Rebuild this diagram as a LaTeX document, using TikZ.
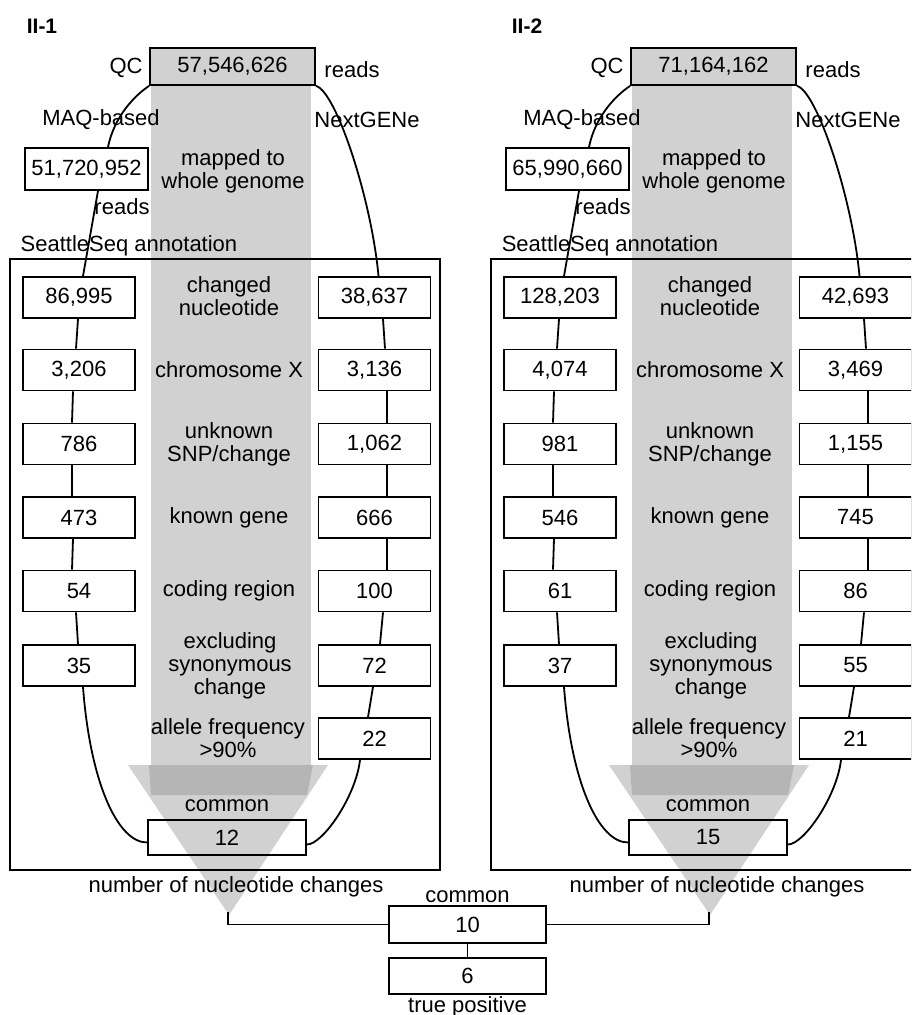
\documentclass[tikz,border=0pt]{standalone}
\usepackage{fontspec}
\setmainfont{Liberation Sans}
\usetikzlibrary{calc}
\definecolor{bandgray}{gray}{0.82}
\definecolor{darkgray2}{gray}{0.71}
\tikzset{
  txt/.style={font=\fontsize{22}{23}\selectfont, inner sep=0pt, align=center},
  numbox/.style={draw, line width=1.8pt, fill=white, minimum width=112pt, minimum height=41pt, inner sep=0pt, font=\fontsize{22}{23}\selectfont},
  link/.style={line width=1.8pt},
  framebox/.style={draw, line width=1.8pt},
  ttl/.style={font=\bfseries\fontsize{21}{22}\selectfont, inner sep=0pt},
}
\begin{document}
\begin{tikzpicture}[x=1pt,y=-1pt]
\useasboundingbox (0,0) rectangle (911,1015);
\clip (0,0) rectangle (911,1015);
\fill[white] (0,0) rectangle (911,1015);

% gray bands, funnels and frames
\foreach \dx in {0,481}{
  \begin{scope}[xshift=\dx pt]
    \fill[bandgray] (151,48) rectangle (311,765);
    \fill[bandgray] (128,765) -- (328,765) -- (229,915) -- cycle;
    \fill[darkgray2] (149,765) -- (313,765) -- (307,795) -- (151,795) -- cycle;
    \draw[framebox] (10,259) rectangle (440,870);
  \end{scope}
}

% ---------- panel II-1 ----------
\node[ttl] (tA) at (42,26) {II-1};
\node[numbox, fill=bandgray, minimum width=165pt, minimum height=37pt] (qcA) at (232.5,66.5) {57,546,626};
\node[txt] (qclA) at (126,68) {QC};
\node[txt] (rdA) at (352,70) {reads};
\node[txt] (maqlA) at (101,120) {MAQ-based};
\node[txt] (ngA) at (367,120) {NextGENe};
\node[numbox, minimum width=123pt, minimum height=42pt] (maqA) at (86.5,169) {51,720,952};
\node[txt] (mapA) at (233,171) {mapped to\\whole genome};
\node[txt] (rd2A) at (122,207) {reads};
\node[txt] (ssA) at (129,246) {SeattleSeq annotation};
\node[numbox] (l1A) at (79,297.5) {86,995};
\node[numbox] (l2A) at (79,370) {3,206};
\node[numbox] (l3A) at (79,444) {786};
\node[numbox] (l4A) at (79,517.5) {473};
\node[numbox] (l5A) at (79,591) {54};
\node[numbox] (l6A) at (79,665.5) {35};
\node[numbox] (r1A) at (374.5,297.5) {38,637};
\node[numbox] (r2A) at (374.5,370) {3,136};
\node[numbox] (r3A) at (374.5,444) {1,062};
\node[numbox] (r4A) at (374.5,517.5) {666};
\node[numbox] (r5A) at (374.5,591) {100};
\node[numbox] (r6A) at (374.5,665.5) {72};
\node[numbox] (r7A) at (374.5,738.5) {22};
\node[txt] (c1A) at (229,296) {changed\\nucleotide};
\node[txt] (c2A) at (229,370) {chromosome X};
\node[txt] (c3A) at (229,444) {unknown\\SNP/change};
\node[txt] (c4A) at (229,517.5) {known gene};
\node[txt] (c5A) at (229,591) {coding region};
\node[txt] (c6A) at (230,665.5) {excluding\\synonymous\\change};
\node[txt] (c7A) at (228,738.5) {allele frequency\\{>}90\%};
\node[txt] (cmA) at (227,806) {common};
\node[numbox, fill=none, minimum width=158pt, minimum height=35pt] (cA) at (227,837.5) {12};
\node[txt] (nnA) at (236,887) {number of nucleotide changes};

% ---------- panel II-2 ----------
\begin{scope}[xshift=481pt]
\node[ttl] (tB) at (46,26) {II-2};
\node[numbox, fill=bandgray, minimum width=165pt, minimum height=37pt] (qcB) at (232.5,66.5) {71,164,162};
\node[txt] (qclB) at (126,68) {QC};
\node[txt] (rdB) at (352,70) {reads};
\node[txt] (maqlB) at (101,120) {MAQ-based};
\node[txt] (ngB) at (367,120) {NextGENe};
\node[numbox, minimum width=123pt, minimum height=42pt] (maqB) at (86.5,169) {65,990,660};
\node[txt] (mapB) at (233,171) {mapped to\\whole genome};
\node[txt] (rd2B) at (122,207) {reads};
\node[txt] (ssB) at (129,246) {SeattleSeq annotation};
\node[numbox] (l1B) at (79,297.5) {128,203};
\node[numbox] (l2B) at (79,370) {4,074};
\node[numbox] (l3B) at (79,444) {981};
\node[numbox] (l4B) at (79,517.5) {546};
\node[numbox] (l5B) at (79,591) {61};
\node[numbox] (l6B) at (79,665.5) {37};
\node[numbox] (r1B) at (374.5,297.5) {42,693};
\node[numbox] (r2B) at (374.5,370) {3,469};
\node[numbox] (r3B) at (374.5,444) {1,155};
\node[numbox] (r4B) at (374.5,517.5) {745};
\node[numbox] (r5B) at (374.5,591) {86};
\node[numbox] (r6B) at (374.5,665.5) {55};
\node[numbox] (r7B) at (374.5,738.5) {21};
\node[txt] (c1B) at (229,296) {changed\\nucleotide};
\node[txt] (c2B) at (229,370) {chromosome X};
\node[txt] (c3B) at (229,444) {unknown\\SNP/change};
\node[txt] (c4B) at (229,517.5) {known gene};
\node[txt] (c5B) at (229,591) {coding region};
\node[txt] (c6B) at (230,665.5) {excluding\\synonymous\\change};
\node[txt] (c7B) at (228,738.5) {allele frequency\\{>}90\%};
\node[txt] (cmB) at (227,806) {common};
\node[numbox, fill=none, minimum width=158pt, minimum height=35pt] (cB) at (227,837.5) {15};
\node[txt] (nnB) at (236,887) {number of nucleotide changes};
\end{scope}

% connectors of both panels
\foreach \s in {A,B}{
  \draw[link] (qc\s.south west) .. controls +(-15,10) and +(6,-30) .. ($(maq\s.north)+(21.5,0)$);
  \draw[link] ($(maq\s.south)+(11.5,0)$) -- ($(l1\s.north)+(4,0)$);
  \draw[link] ($(l1\s.south)+(-1,0)$) -- ($(l2\s.north)+(-3,0)$);
  \draw[link] ($(l2\s.south)+(-6,0)$) -- ($(l3\s.north)+(-7,0)$);
  \draw[link] ($(l3\s.south)+(-7,0)$) -- ($(l4\s.north)+(-7,0)$);
  \draw[link] ($(l4\s.south)+(-6,0)$) -- ($(l5\s.north)+(-7,0)$);
  \draw[link] ($(l5\s.south)+(-3,0)$) -- ($(l6\s.north)+(-1,0)$);
  \draw[link] ($(l6\s.south)+(4,0)$) .. controls +(7,94) and +(-30,0) .. ($(c\s.west)+(0,5)$);
  \draw[link] (qc\s.south east) .. controls +(20,5) and +(-7,-77) .. ($(r1\s.north)+(4,0)$);
  \draw[link] ($(r1\s.south)+(8.5,0)$) -- ($(r2\s.north)+(10.5,0)$);
  \draw[link] ($(r2\s.south)+(12.5,0)$) -- ($(r3\s.north)+(12.5,0)$);
  \draw[link] ($(r3\s.south)+(12.5,0)$) -- ($(r4\s.north)+(12.5,0)$);
  \draw[link] ($(r4\s.south)+(12.5,0)$) -- ($(r5\s.north)+(12.5,0)$);
  \draw[link] ($(r5\s.south)+(8.5,0)$) -- ($(r6\s.north)+(5.5,0)$);
  \draw[link] ($(r6\s.south)+(-1.5,0)$) -- ($(r7\s.north)+(-6.5,0)$);
  \draw[link] ($(r7\s.south)+(-14.5,0)$) .. controls +(-4,36) and +(16,0) .. ($(c\s.east)+(0,7)$);
}

% bottom merge
\node[txt] (cmN) at (467.5,897) {common};
\node[numbox, minimum width=157pt, minimum height=37pt] (tenN) at (467.5,924.5) {10};
\node[numbox, minimum width=157pt, minimum height=36pt] (sixN) at (467.5,976) {6};
\node[txt, anchor=base] (tpN) at (467.5,1012) {true positive};
\coordinate (tipA) at (228,912);
\coordinate (tipB) at (709,912);
\draw[link] (tipA) |- (tenN.west);
\draw[link] (tipB) |- (tenN.east);
\draw[link] (tenN.south) -- (sixN.north);
\end{tikzpicture}
\end{document}
